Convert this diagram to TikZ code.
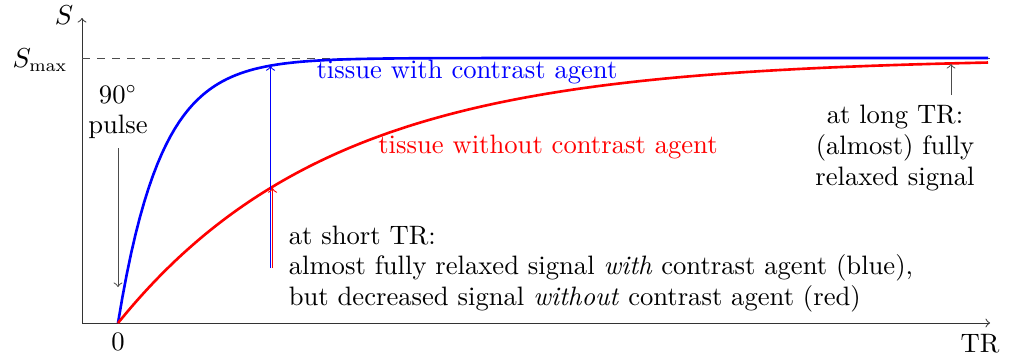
\documentclass[tikz,border=0pt]{standalone}
\begin{document}
\begin{tikzpicture}[x=0.4pt,y=0.4pt,
  every node/.style={font=\fontsize{10.65pt}{12.3pt}\selectfont},
  axis/.style={draw=black!80,->},
  curve/.style={line width=1.05pt,domain=0:870,samples=200},
  note/.style={draw=black!70,->},
  marker/.style={line width=0.45pt,->},
  lbl/.style={inner sep=1pt}]
\useasboundingbox (0,0) rectangle (1012,356);
% axes
\coordinate (O) at (82,33);
\coordinate (ytop) at (82,338);
\coordinate (xend) at (990,33);
\draw[axis] (O) -- (ytop);
\draw[axis] (O) -- (xend);
\coordinate (smaxL) at (82,298);
\coordinate (smaxR) at (990,298);
\draw[dashed,black!70] (smaxL) -- (smaxR);
\node[lbl] (S) at (64,341) {$S$};
\node[lbl] (Smax) at (40,296) {$S_{\max}$};
\node[lbl] (zero) at (118,14) {0};
\node[lbl] (TR) at (980,12) {TR};
% curves
\draw[curve,blue] plot ({118+\x},{33+265*(1-exp(-\x/43))});
\draw[curve,red] plot ({118+\x},{33+265*(1-exp(-\x/214))});
% labels
\node[blue] (withlbl) at (467,284) {tissue with contrast agent};
\node[red] (withoutlbl) at (548,209) {tissue without contrast agent};
\node[align=center] (pulse) at (118,244) {90$^\circ$\\pulse};
\coordinate (pulsestart) at (118,208);
\coordinate (pulsetip) at (118,69);
\draw[note] (pulsestart) -- (pulsetip);
% short TR
\coordinate (bb) at (270.5,88);
\coordinate (bt) at (270.5,290);
\coordinate (rb) at (272.5,88);
\coordinate (rt) at (272.5,168);
\draw[marker,blue] (bb) -- (bt);
\draw[marker,red] (rb) -- (rt);
\node[anchor=west,align=left] (short) at (280,87) {at short TR:\\almost fully relaxed signal \emph{with} contrast agent (blue),\\but decreased signal \emph{without} contrast agent (red)};
% long TR
\node[align=center] (long) at (895,208) {at long TR:\\(almost) fully\\relaxed signal};
\coordinate (lt) at (951,292);
\coordinate (lb) at (951,261);
\draw[note] (lb) -- (lt);
\end{tikzpicture}
\end{document}
